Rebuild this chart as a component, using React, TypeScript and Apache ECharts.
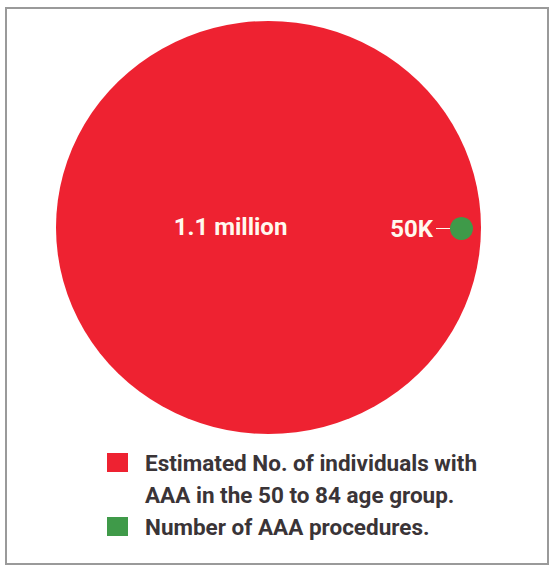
import React, { useEffect, useRef } from 'react';
import * as echarts from 'echarts';

// ---- data ----
const seriesNames: string[] = [
  'Estimated No. of individuals with\nAAA in the 50 to 84 age group.',
  'Number of AAA procedures.',
];
const seriesValues: number[] = [1100000, 50000];
const seriesColors: string[] = ['#ee2231', '#3f9a49'];

// ---- layout (pixel placement of the bubbles, not data) ----
const bubbleCenters: number[][] = [
  [268.5, 227.5],
  [461.5, 228.5],
];
const bubbleSizes: (number | number[])[] = [[425, 413], 23];

const FONT = "Roboto, 'Liberation Sans', sans-serif";
const TEXT_DARK = '#3a3437';
const LABEL_WHITE = '#fff8ee';

function formatCount(v: number): string {
  if (v >= 1e6) return `${v / 1e6} million`;
  return `${v / 1000}K`;
}

export default function App() {
  const ref = useRef<HTMLDivElement>(null);

  useEffect(() => {
    document.body.style.margin = '0';
    if (!ref.current) return;
    const chart = echarts.init(ref.current, undefined, { renderer: 'svg' });

    const labelText = {
      color: LABEL_WHITE,
      fontSize: 24,
      fontWeight: 'bold' as const,
      fontFamily: FONT,
    };

    const legendText = {
      fontSize: 22.5,
      lineHeight: 32,
      fontWeight: 'bold' as const,
      color: TEXT_DARK,
      fontFamily: FONT,
      padding: [0, 0, 0, 12],
    };

    chart.setOption({
      animation: false,
      backgroundColor: '#ffffff',
      grid: { left: 0, right: 0, top: 0, bottom: 0 },
      xAxis: { type: 'value', min: 0, max: 550, show: false },
      yAxis: { type: 'value', min: 0, max: 565, inverse: true, show: false },
      graphic: [
        {
          type: 'rect',
          z: -10,
          silent: true,
          shape: { x: 6, y: 8, width: 542, height: 556 },
          style: { fill: '#ffffff', stroke: '#9a9a9a', lineWidth: 2 },
        },
      ],
      legend: [
        {
          data: [seriesNames[0]],
          // leading blank line keeps the swatch level with the first text line
          formatter: (name: string) => '\n' + name,
          left: 107,
          top: 414.5,
          orient: 'vertical',
          padding: 0,
          itemWidth: 21,
          itemHeight: 19,
          icon: 'rect',
          selectedMode: false,
          textStyle: legendText,
        },
        {
          data: [seriesNames[1]],
          left: 107,
          top: 510.5,
          orient: 'vertical',
          padding: 0,
          itemWidth: 21,
          itemHeight: 19,
          icon: 'rect',
          selectedMode: false,
          textStyle: legendText,
        },
      ],
      series: [
        {
          type: 'scatter',
          name: seriesNames[0],
          z: 1,
          symbol: 'circle',
          symbolSize: bubbleSizes[0],
          itemStyle: { color: seriesColors[0], opacity: 1 },
          emphasis: { disabled: true },
          data: [{ name: seriesNames[0], value: [bubbleCenters[0][0], bubbleCenters[0][1], seriesValues[0]] }],
          label: {
            show: true,
            position: 'inside',
            offset: [-38, -1],
            formatter: (p: any) => formatCount(p.value[2]),
            ...labelText,
          },
        },
        {
          type: 'scatter',
          name: seriesNames[1],
          z: 2,
          symbol: 'circle',
          symbolSize: bubbleSizes[1],
          itemStyle: { color: seriesColors[1], opacity: 1 },
          emphasis: { disabled: true },
          data: [{ name: seriesNames[1], value: [bubbleCenters[1][0], bubbleCenters[1][1], seriesValues[1]] }],
          label: {
            show: true,
            position: 'left',
            distance: 0,
            formatter: (p: any) => `{t|${formatCount(p.value[2])}}{g|}{l|}`,
            rich: {
              t: { ...labelText },
              g: { width: 3 },
              l: { width: 14, height: 1, backgroundColor: LABEL_WHITE },
            },
          },
        },
      ],
    });

    return () => chart.dispose();
  }, []);

  return (
    <div
      ref={ref}
      style={{ position: 'absolute', left: 0, top: 0, width: 550, height: 565 }}
    />
  );
}
